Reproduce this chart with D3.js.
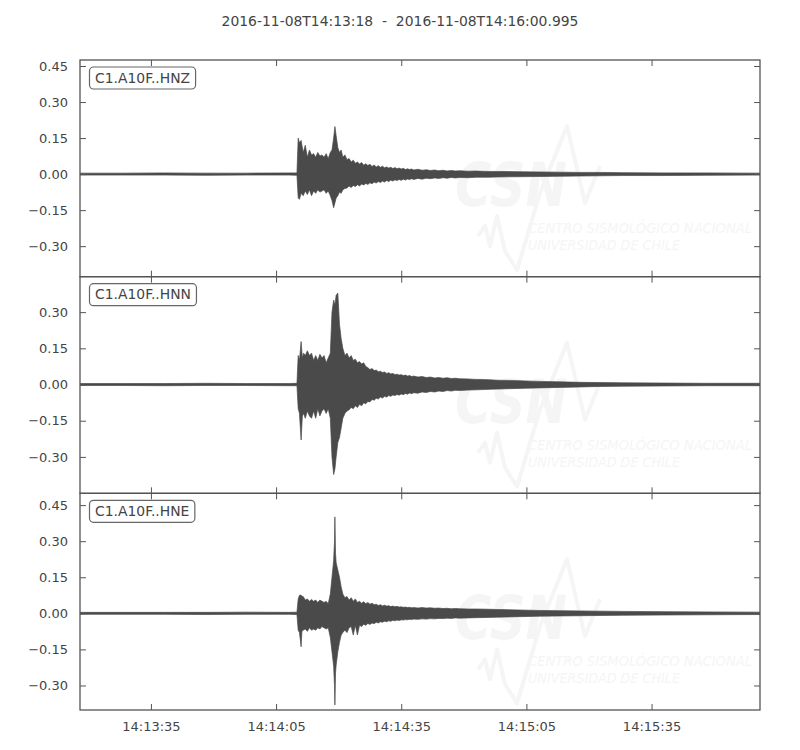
<!DOCTYPE html>
<html>
<head>
<meta charset="utf-8">
<script src="https://cdn.jsdelivr.net/npm/d3@7"></script>
<style>
  html, body { margin: 0; padding: 0; background: #ffffff; }
  svg { display: block; }
  text { white-space: pre; }
</style>
</head>
<body>
<svg id="chart" width="800" height="750"></svg>
<script>
// ---------------- DATA ----------------
const titleText = "2016-11-08T14:13:18  -  2016-11-08T14:16:00.995";
const startTime = "2016-11-08T14:13:18.000Z";
const endTime   = "2016-11-08T14:16:00.995Z";
const channels  = ["C1.A10F..HNZ", "C1.A10F..HNN", "C1.A10F..HNE"];
const xTickLabels = ["14:13:35", "14:14:05", "14:14:35", "14:15:05", "14:15:35"];
const yTickValues = [-0.30, -0.15, 0.00, 0.15, 0.30, 0.45];
const yDomains = [[-0.427, 0.475], [-0.451, 0.447], [-0.402, 0.499]];

// envelope rows: [seconds after start, upper, lower]
const hnzEnvelope = [
  [0, .004, -.004], [10, .004, -.004], [20, .005, -.004], [30, .004, -.005], [40, .004, -.004], [50, .005, -.004], [52.0, .005, -.005],
  [52.3, .15, -.10], [52.6, .13, -.105], [53.0, .14, -.08], [53.5, .09, -.09], [54.0, .12, -.07], [54.5, .07, -.085], [55.0, .10, -.065],
  [55.5, .08, -.09], [56.0, .085, -.07], [56.5, .07, -.08], [57.0, .09, -.065], [57.5, .075, -.075], [58.0, .08, -.07], [58.5, .07, -.065],
  [59.0, .085, -.08], [59.5, .065, -.07], [60.0, .09, -.09], [60.4, .10, -.11], [60.8, .15, -.14], [61.1, .198, -.12], [61.4, .16, -.10],
  [61.8, .11, -.09], [62.2, .09, -.075], [62.6, .10, -.08], [63.0, .07, -.065], [63.5, .08, -.06], [64.0, .06, -.058],
  [64.5, .065, -.05], [65, .05, -.056], [65.5, .058, -.047], [66, .045, -.052], [66.5, .05, -.044], [67, .042, -.05], [67.5, .048, -.041],
  [68, .037, -.045], [68.5, .043, -.039], [69, .036, -.043], [69.5, .041, -.036], [70, .032, -.04], [70.5, .038, -.033], [71, .03, -.037],
  [71.5, .035, -.031], [72, .028, -.035], [72.5, .033, -.029], [73, .026, -.033], [73.5, .03, -.027], [74, .025, -.031], [74.5, .028, -.025],
  [75, .023, -.029], [75.5, .027, -.024], [76, .022, -.027], [76.5, .025, -.022], [77, .021, -.026], [77.5, .024, -.021], [78, .019, -.025],
  [78.5, .022, -.02], [79, .019, -.023], [79.5, .021, -.019], [80, .017, -.022], [81, .02, -.018], [82, .016, -.021], [83, .018, -.017],
  [84, .015, -.019], [85, .017, -.016], [86, .014, -.018], [87, .016, -.015], [88, .013, -.017], [89, .015, -.014], [90, .013, -.016],
  [91, .014, -.014], [93, .012, -.015], [95, .013, -.013], [98, .011, -.013], [100, .011, -.012], [105, .010, -.011], [110, .009, -.010],
  [115, .008, -.009], [120, .007, -.008], [125, .007, -.007], [130, .006, -.006], [140, .005, -.006], [150, .005, -.005], [163, .004, -.004]
];

const hnnEnvelope = [
  [0, .004, -.004], [10, .004, -.004], [20, .004, -.005], [30, .005, -.004], [40, .004, -.004], [50, .004, -.005], [52.0, .005, -.005],
  [52.3, .12, -.10], [52.6, .10, -.12], [53.0, .178, -.23], [53.3, .11, -.13], [53.6, .13, -.12], [54.0, .12, -.14], [54.5, .14, -.11],
  [55.0, .12, -.13], [55.5, .13, -.14], [56.0, .10, -.11], [56.5, .12, -.14], [57.0, .10, -.10], [57.5, .125, -.13], [58.0, .11, -.11],
  [58.5, .12, -.10], [59.0, .09, -.12], [59.5, .11, -.10], [60.0, .13, -.14], [60.4, .30, -.30], [60.8, .35, -.373], [61.1, .33, -.35],
  [61.4, .37, -.30], [61.8, .379, -.24], [62.2, .25, -.22], [62.6, .19, -.18], [63.0, .15, -.14], [63.5, .12, -.12], [64.0, .13, -.11],
  [64.5, .11, -.105], [65, .12, -.095], [65.5, .10, -.10], [66, .105, -.088], [66.5, .09, -.095], [67, .095, -.082], [67.5, .085, -.088],
  [68, .09, -.076], [68.5, .075, -.08], [69, .07, -.07], [69.5, .062, -.072], [70, .066, -.062], [70.5, .058, -.065], [71, .06, -.057],
  [71.5, .053, -.06], [72, .055, -.052], [72.5, .05, -.056], [73, .052, -.049], [73.5, .046, -.052], [74, .049, -.046], [74.5, .044, -.049],
  [75, .046, -.043], [75.5, .041, -.046], [76, .043, -.041], [76.5, .039, -.044], [77, .041, -.039], [77.5, .037, -.042], [78, .039, -.037],
  [78.5, .035, -.04], [79, .037, -.035], [79.5, .033, -.038], [80, .035, -.034], [81, .031, -.036], [82, .033, -.031], [83, .029, -.033],
  [84, .031, -.029], [85, .027, -.031], [86, .029, -.027], [87, .026, -.029], [88, .028, -.025], [89, .025, -.027], [90, .026, -.024],
  [91, .024, -.025], [93, .023, -.023], [95, .021, -.022], [98, .02, -.02], [100, .018, -.019], [105, .016, -.016], [110, .013, -.014],
  [115, .011, -.012], [120, .009, -.010], [125, .008, -.008], [130, .007, -.007], [140, .006, -.006], [150, .005, -.005], [163, .005, -.005]
];

const hneEnvelope = [
  [0, .004, -.004], [10, .004, -.004], [20, .004, -.004], [30, .004, -.005], [40, .005, -.004], [50, .004, -.004], [52.0, .005, -.005],
  [52.3, .06, -.07], [52.6, .075, -.08], [53.0, .076, -.139], [53.2, .07, -.075], [53.5, .07, -.07], [54.0, .055, -.065], [54.5, .06, -.075],
  [55.0, .05, -.06], [55.5, .058, -.07], [56.0, .05, -.065], [56.5, .055, -.07], [57.0, .045, -.06], [57.5, .055, -.065], [58.0, .05, -.055],
  [58.5, .045, -.06], [59.0, .05, -.065], [59.5, .04, -.06], [60.0, .08, -.10], [60.4, .15, -.16], [60.8, .22, -.22], [61.0, .30, -.30],
  [61.1, .401, -.381], [61.25, .25, -.25], [61.4, .21, -.215], [61.8, .18, -.16], [62.2, .15, -.12], [62.6, .11, -.09], [63.0, .08, -.08],
  [63.5, .065, -.07], [64.0, .07, -.08],
  [64.5, .055, -.06], [65, .065, -.055], [65.5, .05, -.09], [66, .06, -.05], [66.5, .045, -.09], [67, .05, -.05], [67.5, .042, -.055],
  [68, .048, -.045], [68.5, .04, -.05], [69, .045, -.042], [69.5, .038, -.046], [70, .042, -.04], [70.5, .036, -.043], [71, .038, -.037],
  [71.5, .033, -.04], [72, .036, -.035], [72.5, .031, -.037], [73, .034, -.033], [73.5, .03, -.035], [74, .032, -.031], [74.5, .028, -.033],
  [75, .03, -.029], [75.5, .027, -.031], [76, .029, -.028], [76.5, .026, -.03], [77, .027, -.027], [77.5, .025, -.028], [78, .026, -.026],
  [78.5, .024, -.027], [79, .025, -.025], [79.5, .023, -.026], [80, .024, -.024], [81, .022, -.025], [82, .024, -.023], [83, .022, -.024],
  [84, .023, -.022], [85, .021, -.023], [86, .022, -.021], [87, .02, -.022], [88, .021, -.02], [89, .019, -.021], [90, .02, -.019],
  [91, .019, -.02], [93, .018, -.019], [95, .018, -.018], [98, .017, -.017], [100, .016, -.016], [105, .014, -.014], [110, .012, -.012],
  [115, .011, -.011], [120, .010, -.010], [125, .009, -.009], [130, .008, -.008], [140, .007, -.007], [150, .006, -.006], [163, .005, -.005]
];

const envelopes = [hnzEnvelope, hnnEnvelope, hneEnvelope];

// ---------------- LAYOUT ----------------
const plotLeft = 80, plotRight = 760, plotTop = 60, plotBottom = 710;
const panelH = (plotBottom - plotTop) / 3;
const textColor = "#444444";
const spineColor = "#555555";
const waveColor = "#4a4a4a";
const wmColor = "#f5f5f5";
const font = "'DejaVu Sans', sans-serif";

const svg = d3.select("#chart");
const t0 = new Date(startTime);
const t1 = new Date(endTime);
const x = d3.scaleUtc().domain([t0, t1]).range([plotLeft, plotRight]);
const tsec = s => new Date(t0.getTime() + s * 1000);
const dayStr = startTime.slice(0, 11);
const xTickDates = xTickLabels.map(l => new Date(dayStr + l + ".000Z"));

svg.append("text")
  .attr("x", 400).attr("y", 26)
  .attr("text-anchor", "middle")
  .attr("xml:space", "preserve")
  .attr("font-family", font).attr("font-size", 13.9)
  .attr("fill", textColor)
  .text(titleText);

const defs = svg.append("defs");

channels.forEach((ch, i) => {
  const pTop = plotTop + i * panelH;
  const pBot = pTop + panelH;
  const y = d3.scaleLinear().domain(yDomains[i]).range([pBot, pTop]);
  const g = svg.append("g");

  defs.append("clipPath").attr("id", "clip" + i)
    .append("rect").attr("x", plotLeft).attr("y", pTop).attr("width", plotRight - plotLeft).attr("height", panelH);

  const inner = g.append("g").attr("clip-path", `url(#clip${i})`);

  // faint watermark (decoration)
  const baseY = pTop + 146;
  inner.append("path")
    .attr("d", d3.line()([[478, baseY + 30], [485, baseY + 20], [490, baseY + 40], [497, baseY + 10], [505, baseY + 45], [517, baseY + 64], [540, baseY - 13], [567, baseY - 80], [585, baseY - 3], [600, baseY - 40]]))
    .attr("fill", "none").attr("stroke", wmColor).attr("stroke-width", 4).attr("stroke-linejoin", "round");
  const wm = inner.append("g").attr("fill", wmColor);
  wm.append("text").attr("x", 455).attr("y", baseY)
    .attr("font-family", font).attr("font-weight", "bold").attr("font-style", "italic")
    .attr("font-size", 60).attr("textLength", 112).attr("lengthAdjust", "spacingAndGlyphs")
    .text("CSN");
  wm.append("text").attr("x", 528).attr("y", baseY + 27)
    .attr("font-family", font).attr("font-style", "italic")
    .attr("font-size", 14).attr("textLength", 224).attr("lengthAdjust", "spacingAndGlyphs")
    .text("CENTRO SISMOLÓGICO NACIONAL");
  wm.append("text").attr("x", 528).attr("y", baseY + 44)
    .attr("font-family", font).attr("font-style", "italic")
    .attr("font-size", 14).attr("textLength", 152).attr("lengthAdjust", "spacingAndGlyphs")
    .text("UNIVERSIDAD DE CHILE");

  // waveform envelope
  const pts = envelopes[i].map(r => ({ t: tsec(r[0]), hi: r[1], lo: r[2] }));
  inner.append("path")
    .datum(pts)
    .attr("d", d3.area().x(d => x(d.t)).y0(d => y(d.lo)).y1(d => y(d.hi)))
    .attr("fill", waveColor).attr("stroke", waveColor).attr("stroke-width", 0.7)
    .attr("stroke-linejoin", "miter");

  // ticks (inward, all sides)
  const yt = yTickValues.filter(v => v >= yDomains[i][0] && v <= yDomains[i][1]);
  const fmt = d3.format(".2f");
  g.append("g").attr("transform", `translate(${plotLeft},0)`)
    .call(d3.axisLeft(y).tickValues(yt).tickSizeInner(-6).tickSizeOuter(0).tickPadding(12).tickFormat(v => fmt(v === 0 ? 0 : v)))
    .call(a => a.select(".domain").remove())
    .call(a => a.selectAll("line").attr("stroke", spineColor))
    .call(a => a.selectAll("text").attr("fill", textColor).attr("font-family", font).attr("font-size", 13));
  g.append("g").attr("transform", `translate(${plotRight},0)`)
    .call(d3.axisRight(y).tickValues(yt).tickSizeInner(-6).tickSizeOuter(0).tickFormat(""))
    .call(a => a.select(".domain").remove())
    .call(a => a.selectAll("line").attr("stroke", spineColor));
  g.append("g").attr("transform", `translate(0,${pTop})`)
    .call(d3.axisTop(x).tickValues(xTickDates).tickSizeInner(-6).tickSizeOuter(0).tickFormat(""))
    .call(a => a.select(".domain").remove())
    .call(a => a.selectAll("line").attr("stroke", spineColor));
  g.append("g").attr("transform", `translate(0,${pBot})`)
    .call(d3.axisBottom(x).tickValues(xTickDates).tickSizeInner(-6).tickSizeOuter(0).tickPadding(12)
      .tickFormat((d, k) => i === channels.length - 1 ? xTickLabels[k] : ""))
    .call(a => a.select(".domain").remove())
    .call(a => a.selectAll("line").attr("stroke", spineColor))
    .call(a => a.selectAll("text").attr("fill", textColor).attr("font-family", font).attr("font-size", 13));

  // frame
  g.append("rect").attr("x", plotLeft).attr("y", pTop).attr("width", plotRight - plotLeft).attr("height", panelH)
    .attr("fill", "none").attr("stroke", spineColor).attr("stroke-width", 1.3);

  // channel label box
  const lbl = g.append("g");
  const txt = lbl.append("text").attr("x", 95).attr("y", pTop + 22.5)
    .attr("font-family", font).attr("font-size", 13.9).attr("fill", textColor).text(ch);
  const bb = txt.node().getBBox();
  lbl.insert("rect", "text")
    .attr("x", 89.5).attr("y", pTop + 7).attr("width", bb.width + 11).attr("height", 22)
    .attr("rx", 4).attr("ry", 4)
    .attr("fill", "#ffffff").attr("stroke", "#666666").attr("stroke-width", 1.2);
});
</script>
</body>
</html>
